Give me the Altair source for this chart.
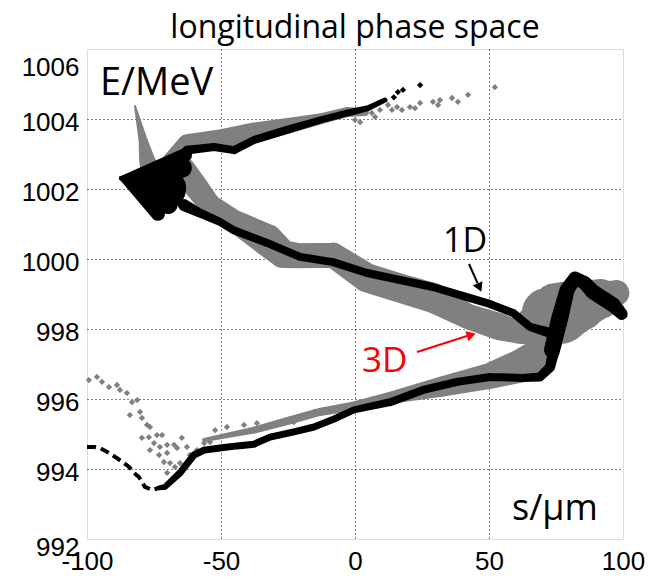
import altair as alt
import pandas as pd

# ---------------- data ----------------
# 1D simulation (black) -- sparse tail at the bunch's left end
b_tail_s = [-100.0, -97.4, -95.1, -92.5, -88.8, -86.2, -84.3, -82.5, -80.6, -78.4, -75.7, -73.1]
b_tail_E = [994.63, 994.63, 994.60, 994.49, 994.31, 994.17, 994.06, 993.89, 993.77, 993.49, 993.40, 993.46]

# 1D lower branch
b_low_s = [-73.1, -70.9, -65.3, -60.1, -56.3, -50.4, -44.0, -37.7, -31.7, -22.8, -15.3, -7.8, -0.4,
           13.1, 25.4, 38.1, 50.4, 62.7, 69.0, 72.8, 74.6, 75.7]
b_low_E = [993.46, 993.49, 993.89, 994.40, 994.54, 994.60, 994.66, 994.71, 994.91, 995.06, 995.20, 995.43, 995.69,
           995.91, 996.26, 996.49, 996.63, 996.60, 996.63, 996.91, 997.54, 997.97]
b_low_w = [5, 6, 7, 7, 7, 7, 7, 7, 7, 7, 7, 7, 7, 8, 8, 8, 8, 8, 9, 10, 12, 12]

# 1D head (rise, peak, fall)
b_peak_s = [73.5, 76.5, 79.1, 82.1, 85.8, 88.8, 96.3, 99.5]
b_peak_E = [997.40, 998.34, 999.11, 999.46, 999.31, 999.06, 998.69, 998.43]
b_peak_w = [16, 17, 15, 13, 14, 15, 15, 12]

# 1D middle branch (right to left)
b_mid_s = [74.6, 72.8, 65.3, 59.0, 49.3, 41.8, 29.1, 16.8, 4.5, -8.2, -20.5, -32.8, -45.5, -50.4, -57.8, -63.8]
b_mid_E = [997.80, 997.89, 998.06, 998.46, 998.74, 998.91, 999.20, 999.40, 999.60, 999.91, 1000.06, 1000.46,
           1000.83, 1001.06, 1001.31, 1001.54]
b_mid_w = [12, 10, 8, 8, 8, 8, 8, 8, 8, 8, 8, 8, 8, 8, 9, 12]

# 1D fish-tail: a fan of strokes from its left tip to its right edge
b_fish_tip = (-87.3, 1002.31)
b_fish_end_s = [-63.4, -64.6, -66.8, -69.8, -73.5, -70.5]
b_fish_end_E = [1002.97, 1002.60, 1002.09, 1001.57, 1001.29, 1002.00]
b_fish_end_w = [14, 20, 20, 20, 14, 40]

# 1D upper branch
b_up_s = [-65.3, -62.7, -52.6, -45.1, -37.7, -25.4, -13.1, -3.0, 4.9, 11.2]
b_up_E = [1002.69, 1003.11, 1003.20, 1003.11, 1003.40, 1003.69, 1003.97, 1004.17, 1004.31, 1004.54]
b_up_w = [14, 9, 8, 8, 8, 8, 7, 7, 6, 5]

b_pts_s = [14.5, 16.0, 17.9, 24.3]
b_pts_E = [1004.62, 1004.77, 1004.83, 1004.97]

# 3D simulation (gray)
g_spike_s = [-82.1, -79.1, -77.6, -75.7]
g_spike_E = [1004.37, 1003.40, 1002.83, 1002.31]
g_spike_w = [2, 9, 16, 22]

g_up_s = [-68.3, -62.7, -50.4, -37.7, -25.4, -13.1, -3.0, 3.7]
g_up_E = [1002.77, 1003.31, 1003.40, 1003.60, 1003.80, 1004.00, 1004.20, 1004.20]
g_up_w = [20, 18, 21, 21, 16, 11, 10, 8]

g_mid_s = [-64.6, -63.4, -59.0, -54.1, -45.5, -32.8, -26.9, -20.5, -8.2, 4.5, 16.8, 29.1, 41.8, 54.1, 61.6, 70.9]
g_mid_E = [1002.69, 1002.60, 1002.03, 1001.54, 1001.11, 1000.54, 1000.14, 1000.09, 1000.11, 999.46, 999.17,
           998.89, 998.37, 998.06, 997.89, 997.74]
g_mid_w = [16, 20, 24, 22, 22, 32, 28, 25, 25, 29, 29, 30, 25, 27, 22, 16]

g_right_s = [65.3, 71.6, 76.5, 84.0, 91.4, 97.5]
g_right_E = [998.26, 998.46, 998.46, 998.69, 998.86, 999.03]
g_right_w = [25, 50, 62, 52, 40, 26]

g_low_s = [-56.3, -37.7, -25.4, -13.1, -0.4, 13.1, 31.7, 50.4, 62.7, 70.9, 74.6]
g_low_E = [994.83, 995.11, 995.37, 995.63, 995.80, 996.03, 996.34, 996.66, 996.97, 997.40, 997.83]
g_low_w = [4, 7, 8, 8, 9, 12, 20, 26, 34, 30, 20]

g_pts_s = [-99.3, -96.3, -94.4, -91.8, -88.8, -87.7, -85.1, -83.2, -81.3, -84.0, -80.2, -79.5, -77.6, -76.5,
           -79.5, -76.9, -73.9, -72.0, -75.0, -72.8, -70.1, -67.5, -76.5, -73.1, -70.1, -66.4, -64.6, -62.7,
           -71.3, -69.0, -70.1, -67.2, -65.3, -61.6, -59.0, -56.3, -54.1, -52.2, -47.8, -41.4, -36.6, -32.8,
           -28.0, -22.8, -15.3, -11.6, -5.6, -0.4,
           0.0, 1.9, 6.3, 7.5, 9.3, 12.3, 13.8, 15.7, 17.5, 20.5, 22.4, 24.3, 29.1, 31.0, 31.7, 36.2, 38.4, 42.2, 52.2]
g_pts_E = [996.54, 996.63, 996.49, 996.34, 996.40, 996.26, 996.17, 995.91, 995.97, 995.54, 995.63, 995.46, 995.26,
           995.20, 994.89, 994.91, 994.97, 994.97, 994.74, 994.63, 994.69, 994.69, 994.54, 994.40, 994.46, 994.60,
           994.89, 994.63, 994.20, 994.17, 993.89, 994.06, 994.17, 994.40, 994.54, 994.74, 994.77, 995.11, 995.20,
           995.26, 995.31, 995.20, 995.31, 995.34, 995.63, 995.69, 995.74, 995.83,
           1003.97, 1003.91, 1004.17, 1004.06, 1004.26, 1004.40, 1004.26, 1004.34, 1004.26, 1004.34, 1004.31,
           1004.46, 1004.49, 1004.40, 1004.54, 1004.60, 1004.49, 1004.69, 1004.91]

x_ticks = [-100, -50, 0, 50, 100]
y_ticks = [992, 994, 996, 998, 1000, 1002, 1004, 1006]


def trails(parts):
    rows = []
    for name, ss, ee, ww in parts:
        for i, (a, b, c) in enumerate(zip(ss, ee, ww)):
            rows.append({"seg": name, "i": i, "s": a, "E": b, "w": c})
    return pd.DataFrame(rows)


fish_parts = [("fish%d" % k, [b_fish_tip[0], es], [b_fish_tip[1], ee], [4, ew])
              for k, (es, ee, ew) in enumerate(zip(b_fish_end_s, b_fish_end_E, b_fish_end_w))]

gray_df = trails([("spike", g_spike_s, g_spike_E, g_spike_w),
                  ("up", g_up_s, g_up_E, g_up_w),
                  ("mid", g_mid_s, g_mid_E, g_mid_w),
                  ("right", g_right_s, g_right_E, g_right_w),
                  ("low", g_low_s, g_low_E, g_low_w)])
black_df = trails([("low", b_low_s, b_low_E, b_low_w),
                   ("peak", b_peak_s, b_peak_E, b_peak_w),
                   ("mid", b_mid_s, b_mid_E, b_mid_w),
                   ("up", b_up_s, b_up_E, b_up_w)] + fish_parts)
gray_pts = pd.DataFrame({"s": g_pts_s, "E": g_pts_E})
black_pts = pd.DataFrame({"s": b_pts_s, "E": b_pts_E})
black_tail = pd.DataFrame({"s": b_tail_s, "E": b_tail_E, "i": list(range(len(b_tail_s)))})

GRAY = "#808080"

X = alt.X("s:Q", scale=alt.Scale(domain=[-100, 100], nice=False, zero=False),
          axis=alt.Axis(values=x_ticks, title=None, labelFont="Liberation Sans", labelFontSize=26,
                        labelColor="black", labelPadding=9, ticks=False, domain=False,
                        labelFlush=False, labelOverlap=False, labelExpr="datum.value + ''",
                        grid=True, gridColor="black", gridDash=[1, 3], gridWidth=1,
                        gridOpacity={"expr": "abs(datum.value) == 100 ? 0 : 1"}))
Y = alt.Y("E:Q", scale=alt.Scale(domain=[992, 1006], nice=False, zero=False),
          axis=alt.Axis(values=y_ticks, title=None, labelFont="Liberation Sans", labelFontSize=26,
                        labelColor="black", labelPadding=8, ticks=False, domain=False,
                        labelFlush=False, labelOverlap=False, labelExpr="datum.value + ''",
                        labelOffset={"expr": "datum.value == 1006 ? 18 : (datum.value == 992 ? 8 : 3)"},
                        grid=True, gridColor="black", gridDash=[1, 3], gridWidth=1,
                        gridOpacity={"expr": "datum.value == 1006 || datum.value == 992 ? 0 : 1"}))

gray_layer = alt.Chart(gray_df).mark_trail(color=GRAY).encode(
    x=X, y=Y, size=alt.Size("w:Q", scale=None), detail="seg:N", order="i:Q")
gray_pt_layer = alt.Chart(gray_pts).mark_point(shape="diamond", filled=True, color=GRAY, size=40, opacity=1).encode(
    x=X, y=Y)
black_layer = alt.Chart(black_df).mark_trail(color="black").encode(
    x=X, y=Y, size=alt.Size("w:Q", scale=None), detail="seg:N", order="i:Q")
black_pt_layer = alt.Chart(black_pts).mark_point(shape="diamond", filled=True, color="black", size=40, opacity=1).encode(
    x=X, y=Y)
black_tail_layer = alt.Chart(black_tail).mark_line(color="black", strokeWidth=4, strokeDash=[9, 5]).encode(
    x=X, y=Y, order="i:Q")


# annotations (pixel positions inside the plot area)
def label(text, x, y, size, color="black"):
    return alt.Chart(pd.DataFrame({"t": [text]})).mark_text(
        text=text, font="Open Sans", fontSize=size, align="left", baseline="alphabetic", color=color
    ).encode(x=alt.value(x), y=alt.value(y))


t_E = label("E/MeV", 13, 46, 38)
t_s = label("s/μm", 425, 471, 36)
t_1D = label("1D", 356, 203, 34)
t_3D = label("3D", 275, 323, 35, "red")

arrow_b = alt.Chart(pd.DataFrame({"a": [0]})).mark_rule(color="black", strokeWidth=2).encode(
    x=alt.value(382), x2=alt.value(390.5), y=alt.value(215), y2=alt.value(234))
head_b = alt.Chart(pd.DataFrame({"a": [0]})).mark_point(shape="triangle-up", filled=True, color="black",
                                                        size=110, angle=156, opacity=1).encode(
    x=alt.value(392.5), y=alt.value(238.5))
arrow_r = alt.Chart(pd.DataFrame({"a": [0]})).mark_rule(color="red", strokeWidth=2).encode(
    x=alt.value(330), x2=alt.value(380), y=alt.value(303), y2=alt.value(287))
head_r = alt.Chart(pd.DataFrame({"a": [0]})).mark_point(shape="triangle-up", filled=True, color="red",
                                                        size=110, angle=72, opacity=1).encode(
    x=alt.value(384.3), y=alt.value(285.8))

chart = alt.layer(
    gray_layer, gray_pt_layer, black_layer, black_pt_layer, black_tail_layer,
    t_E, t_s, t_1D, t_3D, arrow_b, head_b, arrow_r, head_r
).properties(
    width=536, height=490,
    title=alt.Title("longitudinal phase space", font="Open Sans", fontSize=32, fontWeight="normal",
                    color="black", anchor="middle", baseline="alphabetic", offset=12, dy=33),
    autosize=alt.AutoSizeParams(type="none"),
    padding={"left": 87, "top": 49, "right": 30, "bottom": 49},
).configure_view(stroke="#777777", strokeWidth=1.5).configure(background="white")

chart.save("out.html", embed_options={"renderer": "svg", "actions": False})
